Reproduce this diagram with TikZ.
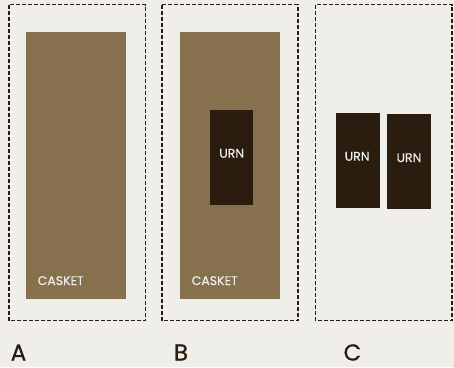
\documentclass[tikz,border=0pt]{standalone}
\usepackage{fontspec}
\setmainfont{Poppins}
\definecolor{bg}{HTML}{F0EEEA}
\definecolor{casketc}{HTML}{87704D}
\definecolor{urnc}{HTML}{2B1C10}
\begin{document}
\begin{tikzpicture}[x=1pt,y=-1pt,
  panel/.style={draw=urnc,line width=1.1pt,dash pattern=on 4pt off 2pt},
  casket/.style={fill=casketc,draw=none},
  urn/.style={fill=urnc,draw=none},
  boxtext/.style={text=bg,font=\fontsize{12.5}{14}\selectfont\addfontfeature{FakeBold=0.4},inner sep=0pt},
  lettertext/.style={text=urnc,font=\fontsize{23}{26}\selectfont\addfontfeature{FakeBold=0.7},inner sep=0pt,anchor=base}]
\fill[bg] (0,0) rectangle (454,367);
\useasboundingbox (0,0) rectangle (454,367);
% panels
\draw[panel] (9,4.5) rectangle (145.5,320.5);
\draw[panel] (162,4.5) rectangle (298,320.5);
\draw[panel] (315.5,4.5) rectangle (452,320.5);
% caskets
\fill[casket] (26,32) rectangle (126,298.5);
\fill[casket] (180,32) rectangle (280,298.5);
% urns
\fill[urn] (210,110) rectangle (252.5,205);
\fill[urn] (336,113) rectangle (380,208);
\fill[urn] (387,114) rectangle (431,209);
% texts
\node[boxtext,anchor=base west] (ta) at (37.5,285) {CASKET};
\node[boxtext,anchor=base west] (tb) at (191.5,285) {CASKET};
\node[boxtext,anchor=base] (u1) at (231.7,157.7) {URN};
\node[boxtext,anchor=base] (u2) at (357.2,160.7) {URN};
\node[boxtext,anchor=base] (u3) at (409,162) {URN};
\node[lettertext] (la) at (18.5,360.5) {A};
\node[lettertext] (lb) at (181,360.5) {B};
\node[lettertext] (lc) at (352.5,360.5) {C};
\end{tikzpicture}
\end{document}
